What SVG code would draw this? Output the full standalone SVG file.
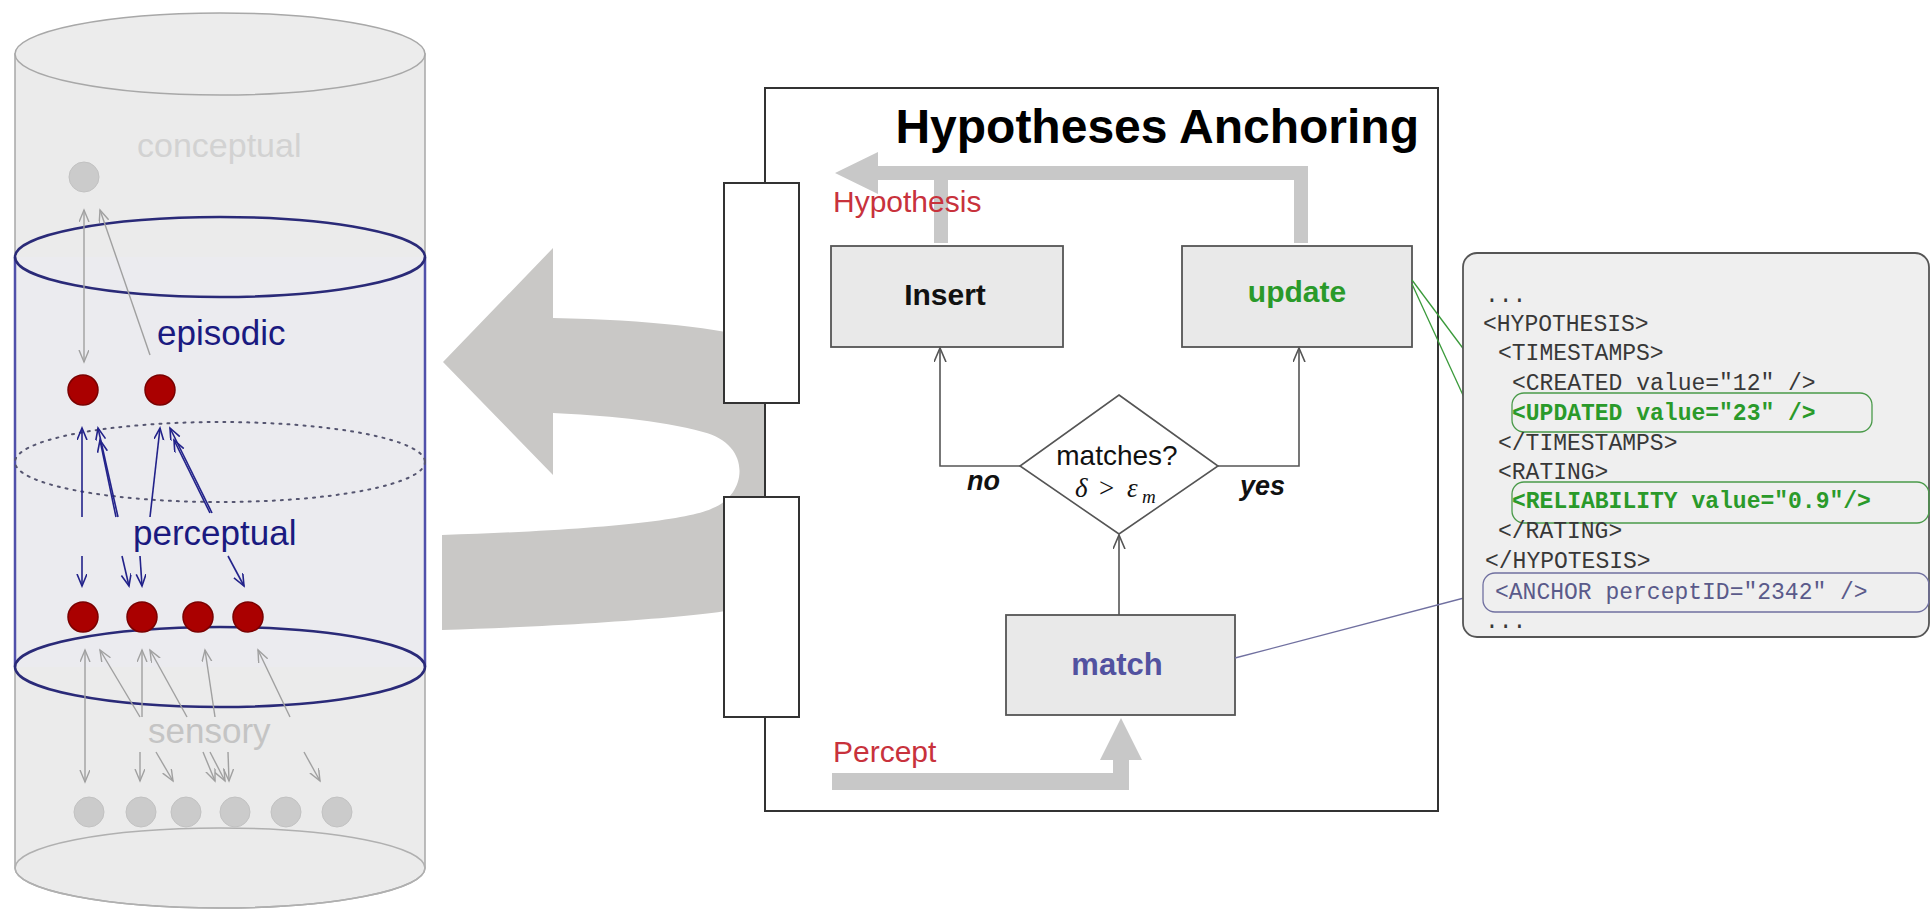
<svg xmlns="http://www.w3.org/2000/svg" width="1931" height="909" viewBox="0 0 1931 909">
<style>
.sans{font-family:"Liberation Sans",Arial,sans-serif}
.serif{font-family:"Liberation Serif","Times New Roman",serif}
.mono{font-family:"Liberation Mono","Courier New",monospace;font-size:23px}
.gl{stroke:#a0a0a0;stroke-width:1.4;fill:none}
.bl{stroke:#22228a;stroke-width:1.6;fill:none}
.fl{stroke:#555;stroke-width:1.6;fill:none}
.box{fill:#e9e9e9;stroke:#555;stroke-width:1.8}
.big{fill:#c9c8c6}
.bar{fill:#c8c8c8}
</style>
<defs>
<marker id="aG" markerUnits="userSpaceOnUse" markerWidth="14" markerHeight="12" refX="12" refY="5" orient="auto-start-reverse"><path d="M0,0 L12,5 L0,10" fill="none" stroke="#a0a0a0" stroke-width="1.4"/></marker>
<marker id="aB" markerUnits="userSpaceOnUse" markerWidth="14" markerHeight="12" refX="12" refY="5" orient="auto-start-reverse"><path d="M0,0 L12,5 L0,10" fill="none" stroke="#22228a" stroke-width="1.6"/></marker>
<marker id="aD" markerUnits="userSpaceOnUse" markerWidth="16" markerHeight="14" refX="14" refY="6" orient="auto"><path d="M0,0 L14,6 L0,12" fill="none" stroke="#555" stroke-width="1.6"/></marker>
</defs>
<rect width="1931" height="909" fill="#fff"/>

<g id="memory-cylinder">
  <path d="M15,54 L15,868 A205,40 0 0 0 425,868 L425,54 Z" fill="#ebebeb" stroke="#a8a8a8" stroke-width="1.5"/>
  <ellipse cx="220" cy="54" rx="205" ry="41" fill="#ececec" stroke="#a8a8a8" stroke-width="1.5"/>
  <ellipse cx="220" cy="868" rx="205" ry="40" fill="none" stroke="#b0b0b0" stroke-width="1.5"/>
  <rect x="15" y="257" width="410" height="410" fill="#ebebef"/>
  <line x1="15" y1="257" x2="15" y2="667" stroke="#5050aa" stroke-width="2.5"/>
  <line x1="425" y1="257" x2="425" y2="667" stroke="#5050aa" stroke-width="2.5"/>
  <ellipse cx="220" cy="257" rx="205" ry="40" fill="none" stroke="#2a2a78" stroke-width="2.5"/>
  <ellipse cx="220" cy="667" rx="205" ry="40" fill="none" stroke="#2a2a78" stroke-width="2.5"/>
  <ellipse cx="220" cy="462" rx="205" ry="40" fill="none" stroke="#555570" stroke-width="2" stroke-dasharray="2,6" stroke-linecap="round"/>
</g>

<g id="conceptual">
  <text x="137" y="157" class="sans" font-size="34" fill="#d2d2d2">conceptual</text>
  <circle cx="84" cy="177" r="15" fill="#cbcbcb" stroke="#c2c2c2"/>
</g>
<g id="episodic">
  <text x="157" y="345" class="sans" font-size="35" fill="#1a1a80">episodic</text>
  <circle cx="83" cy="390" r="15" fill="#aa0000" stroke="#7a0000" stroke-width="1.5"/>
  <circle cx="160" cy="390" r="15" fill="#aa0000" stroke="#7a0000" stroke-width="1.5"/>
</g>
<g id="perceptual">
  <text x="133" y="545" class="sans" font-size="35" fill="#1a1a80">perceptual</text>
  <circle cx="83" cy="617" r="15" fill="#aa0000" stroke="#7a0000" stroke-width="1.5"/>
  <circle cx="142" cy="617" r="15" fill="#aa0000" stroke="#7a0000" stroke-width="1.5"/>
  <circle cx="198" cy="617" r="15" fill="#aa0000" stroke="#7a0000" stroke-width="1.5"/>
  <circle cx="248" cy="617" r="15" fill="#aa0000" stroke="#7a0000" stroke-width="1.5"/>
</g>
<g id="sensory">
  <text x="148" y="743" class="sans" font-size="35" fill="#c4c4c4">sensory</text>
  <circle cx="89" cy="812" r="15" fill="#cbcbcb" stroke="#c2c2c2"/>
  <circle cx="141" cy="812" r="15" fill="#cbcbcb" stroke="#c2c2c2"/>
  <circle cx="186" cy="812" r="15" fill="#cbcbcb" stroke="#c2c2c2"/>
  <circle cx="235" cy="812" r="15" fill="#cbcbcb" stroke="#c2c2c2"/>
  <circle cx="286" cy="812" r="15" fill="#cbcbcb" stroke="#c2c2c2"/>
  <circle cx="337" cy="812" r="15" fill="#cbcbcb" stroke="#c2c2c2"/>
</g>

<g id="memory-links">
  <line class="gl" x1="84" y1="210" x2="84" y2="362" marker-start="url(#aG)" marker-end="url(#aG)"/>
  <line class="gl" x1="150" y1="355" x2="100" y2="210" marker-end="url(#aG)"/>
  <line class="bl" x1="82" y1="517" x2="82" y2="428" marker-end="url(#aB)"/>
  <line class="bl" x1="118" y1="517" x2="98" y2="428" marker-end="url(#aB)"/>
  <line class="bl" x1="116" y1="517" x2="100" y2="440" marker-end="url(#aB)"/>
  <line class="bl" x1="150" y1="517" x2="160" y2="428" marker-end="url(#aB)"/>
  <line class="bl" x1="212" y1="513" x2="170" y2="428" marker-end="url(#aB)"/>
  <line class="bl" x1="210" y1="513" x2="174" y2="440" marker-end="url(#aB)"/>
  <line class="bl" x1="82" y1="556" x2="82" y2="586" marker-end="url(#aB)"/>
  <line class="bl" x1="122" y1="556" x2="129" y2="586" marker-end="url(#aB)"/>
  <line class="bl" x1="140" y1="556" x2="142" y2="586" marker-end="url(#aB)"/>
  <line class="bl" x1="228" y1="556" x2="244" y2="586" marker-end="url(#aB)"/>
  <line class="gl" x1="85" y1="650" x2="85" y2="782" marker-start="url(#aG)" marker-end="url(#aG)"/>
  <line class="gl" x1="140" y1="717" x2="100" y2="650" marker-end="url(#aG)"/>
  <line class="gl" x1="142" y1="717" x2="142" y2="650" marker-end="url(#aG)"/>
  <line class="gl" x1="187" y1="717" x2="150" y2="650" marker-end="url(#aG)"/>
  <line class="gl" x1="215" y1="717" x2="205" y2="650" marker-end="url(#aG)"/>
  <line class="gl" x1="290" y1="717" x2="258" y2="650" marker-end="url(#aG)"/>
  <line class="gl" x1="140" y1="752" x2="140" y2="781" marker-end="url(#aG)"/>
  <line class="gl" x1="156" y1="752" x2="173" y2="781" marker-end="url(#aG)"/>
  <line class="gl" x1="203" y1="752" x2="215" y2="781" marker-end="url(#aG)"/>
  <line class="gl" x1="210" y1="752" x2="225" y2="781" marker-end="url(#aG)"/>
  <line class="gl" x1="228" y1="752" x2="229" y2="781" marker-end="url(#aG)"/>
  <line class="gl" x1="304" y1="752" x2="320" y2="781" marker-end="url(#aG)"/>
</g>

<g id="big-return-arrow">
  <path class="big" d="M443,362 L553,248 L553,318 C650,320 720,328 760,340 C805,360 805,590 760,605 C720,615 600,625 442,630 L442,535 C600,530 690,520 713,508 C748,494 752,444 703,432 C660,420 600,415 553,413 L553,475 Z"/>
</g>

<g id="hypotheses-anchoring">
  <rect x="765" y="88" width="673" height="723" fill="#fff" stroke="#333" stroke-width="2"/>
  <text x="1419" y="143" class="sans" font-size="48" font-weight="bold" fill="#000" text-anchor="end">Hypotheses Anchoring</text>
</g>
<g id="port-hypothesis">
  <rect x="724" y="183" width="75" height="220" fill="#fff" stroke="#333" stroke-width="2"/>
</g>
<g id="port-percept">
  <rect x="724" y="497" width="75" height="220" fill="#fff" stroke="#333" stroke-width="2"/>
</g>

<g id="hypothesis-flow">
  <path class="bar" d="M835,173 L878,152 L878,166 L1308,166 L1308,243 L1294,243 L1294,180 L948,180 L948,243 L934,243 L934,180 L878,180 L878,194 Z"/>
  <text x="833" y="212" class="sans" font-size="30" fill="#c8323c">Hypothesis</text>
</g>
<g id="percept-flow">
  <path class="bar" d="M832,773 L1113,773 L1113,760 L1100,760 L1121,718 L1142,760 L1129,760 L1129,790 L832,790 Z"/>
  <text x="833" y="762" class="sans" font-size="30" fill="#c8323c">Percept</text>
</g>

<g id="insert">
  <rect class="box" x="831" y="246" width="232" height="101"/>
  <text x="945" y="305" class="sans" font-size="30" font-weight="bold" fill="#111" text-anchor="middle">Insert</text>
</g>
<g id="update">
  <rect class="box" x="1182" y="246" width="230" height="101"/>
  <text x="1297" y="302" class="sans" font-size="30" font-weight="bold" fill="#2a9a2a" text-anchor="middle">update</text>
</g>
<g id="match">
  <rect class="box" x="1006" y="615" width="229" height="100"/>
  <text x="1117" y="675" class="sans" font-size="31" font-weight="bold" fill="#5252a0" text-anchor="middle">match</text>
</g>
<g id="decision">
  <path d="M1119,395 L1218,466 L1119,534 L1020,466 Z" fill="#fff" stroke="#555" stroke-width="1.6"/>
  <text x="1117" y="465" class="sans" font-size="28" fill="#111" text-anchor="middle">matches?</text>
  <text x="1075" y="497" class="serif" font-size="27" font-style="italic" fill="#111">δ</text>
  <text x="1099" y="497" class="serif" font-size="27" fill="#111">&gt;</text>
  <text x="1127" y="497" class="serif" font-size="27" font-style="italic" fill="#111">ε</text>
  <text x="1142" y="503" class="serif" font-size="19" font-style="italic" fill="#111">m</text>
</g>

<g id="connectors">
  <polyline class="fl" points="1020,466 940,466 940,348" marker-end="url(#aD)"/>
  <polyline class="fl" points="1218,466 1299,466 1299,348" marker-end="url(#aD)"/>
  <line class="fl" x1="1119" y1="615" x2="1119" y2="535" marker-end="url(#aD)"/>
  <text x="967" y="490" class="sans" font-size="27" font-weight="bold" font-style="italic" fill="#111">no</text>
  <text x="1240" y="495" class="sans" font-size="27" font-weight="bold" font-style="italic" fill="#111">yes</text>
  <line x1="1412" y1="280" x2="1512" y2="414" stroke="#3a9a3a" stroke-width="1.3"/>
  <line x1="1412" y1="284" x2="1512" y2="502" stroke="#3a9a3a" stroke-width="1.3"/>
  <line x1="1235" y1="658" x2="1483" y2="593" stroke="#7070a0" stroke-width="1.3"/>
</g>

<g id="xml-record">
  <rect x="1463" y="253" width="466" height="384" rx="14" fill="#efefef" stroke="#555" stroke-width="1.8"/>
  <rect x="1512" y="393" width="360" height="39" rx="12" fill="none" stroke="#4a9a4a" stroke-width="1.3"/>
  <rect x="1512" y="482" width="417" height="41" rx="12" fill="none" stroke="#4a9a4a" stroke-width="1.3"/>
  <rect x="1483" y="573" width="446" height="39" rx="12" fill="none" stroke="#7070a0" stroke-width="1.3"/>
  <g class="mono" fill="#383838">
    <text x="1485" y="302">...</text>
    <text x="1483" y="331">&lt;HYPOTHESIS&gt;</text>
    <text x="1498" y="360">&lt;TIMESTAMPS&gt;</text>
    <text x="1512" y="390">&lt;CREATED value=&quot;12&quot; /&gt;</text>
    <text x="1512" y="420" fill="#2a9a2a" font-weight="bold">&lt;UPDATED value=&quot;23&quot; /&gt;</text>
    <text x="1498" y="450">&lt;/TIMESTAMPS&gt;</text>
    <text x="1498" y="479">&lt;RATING&gt;</text>
    <text x="1512" y="508" fill="#2a9a2a" font-weight="bold">&lt;RELIABILITY value=&quot;0.9&quot;/&gt;</text>
    <text x="1498" y="538">&lt;/RATING&gt;</text>
    <text x="1485" y="568">&lt;/HYPOTESIS&gt;</text>
    <text x="1495" y="599" fill="#5a5a8a">&lt;ANCHOR perceptID=&quot;2342&quot; /&gt;</text>
    <text x="1485" y="628">...</text>
  </g>
</g>
</svg>
